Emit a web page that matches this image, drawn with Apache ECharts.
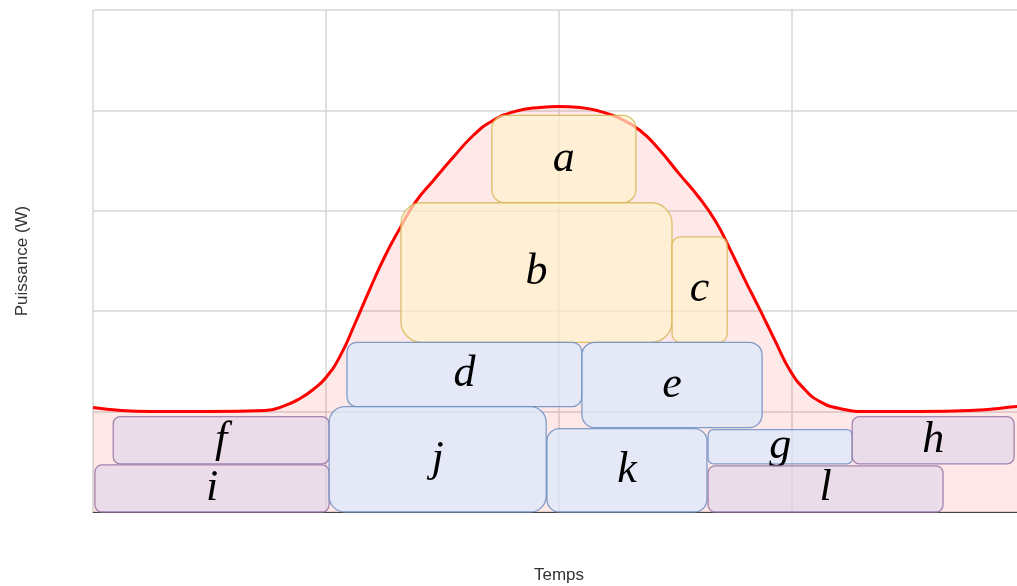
<!DOCTYPE html>
<html>
<head>
<meta charset="utf-8">
<script src="https://cdn.jsdelivr.net/npm/echarts@6/dist/echarts.min.js"></script>
<style>
  html, body { margin: 0; padding: 0; background: #ffffff; }
  #main { width: 1017px; height: 586px; }
</style>
</head>
<body>
<div id="main"></div>
<script>
// courbe de puissance (temps en heures, puissance en unites de grille)
var timeH = [0, 1.47, 3.01, 4.43, 4.94, 5.33, 5.67, 6.0, 6.36, 6.75, 7.13, 7.52, 7.91, 8.29, 8.76, 9.27, 9.79,
  10.3, 10.87, 11.51, 12.0, 12.54, 13.05, 13.57, 14.09, 14.58, 15.09, 15.61, 16.04, 16.4, 16.79, 17.18, 17.56,
  17.95, 18.33, 18.72, 19.24, 20.01, 21.3, 22.58, 23.79, 24]
var power = [1.04, 1.0, 1.0, 1.01, 1.06, 1.13, 1.22, 1.34, 1.55, 1.88, 2.22, 2.55, 2.83, 3.08, 3.3, 3.53, 3.75,
  3.9, 3.99, 4.03, 4.04, 4.03, 3.99, 3.92, 3.8, 3.61, 3.37, 3.13, 2.89, 2.62, 2.31, 2.01, 1.71,
  1.41, 1.22, 1.1, 1.03, 1.0, 1.0, 1.01, 1.05, 1.06]

// blocs (charges)
var boxNames = ['a', 'b', 'c', 'd', 'e', 'f', 'i', 'j', 'k', 'g', 'h', 'l']
var boxGroup = ['yellow', 'yellow', 'yellow', 'blue', 'blue', 'purple', 'purple', 'blue', 'blue', 'blue', 'purple', 'purple']
var boxStart = [10.27, 7.93, 14.91, 6.54, 12.59, 0.52, 0.05, 6.08, 11.69, 15.84, 19.55, 15.84]
var boxEnd = [13.98, 14.91, 16.33, 12.59, 17.23, 6.08, 6.08, 11.67, 15.81, 19.55, 23.72, 21.89]
var boxLow = [3.08, 1.69, 1.69, 1.05, 0.84, 0.48, 0, 0, 0, 0.48, 0.48, 0]
var boxHigh = [3.95, 3.08, 2.74, 1.69, 1.69, 0.95, 0.47, 1.05, 0.83, 0.82, 0.95, 0.46]

var groupStyle = {
  yellow: { fill: '#fff2cc', stroke: '#d6b656' },
  blue: { fill: '#dae8fc', stroke: '#6c8ebf' },
  purple: { fill: '#e1d5e7', stroke: '#9673a6' }
}

var curveData = timeH.map(function (t, i) { return [t, power[i]] })
var boxData = boxNames.map(function (n, i) { return [boxStart[i], boxLow[i], boxEnd[i], boxHigh[i]] })

var myChart = echarts.init(document.getElementById('main'))

function renderBox (params, api) {
  var p0 = api.coord([api.value(0), api.value(3)])
  var p1 = api.coord([api.value(2), api.value(1)])
  var w = p1[0] - p0[0]
  var h = p1[1] - p0[1]
  var st = groupStyle[boxGroup[params.dataIndex]]
  return {
    type: 'group',
    children: [
      {
        type: 'rect',
        shape: { x: p0[0], y: p0[1], width: w, height: h, r: Math.min(w, h) * 0.15 },
        style: { fill: st.fill, stroke: st.stroke, lineWidth: 1.3, fillOpacity: 0.7, strokeOpacity: 0.85 }
      },
      {
        type: 'text',
        style: {
          text: boxNames[params.dataIndex],
          x: p0[0] + w / 2,
          y: p0[1] + h / 2,
          align: 'center',
          verticalAlign: 'middle',
          font: 'italic 44px "Liberation Serif", "DejaVu Serif", serif',
          fill: '#000000'
        }
      }
    ]
  }
}

myChart.setOption({
  animation: false,
  // la grille depasse a droite de la fenetre
  grid: { left: 93, top: 10, width: 932, height: 502, outerBoundsMode: 'none' },
  xAxis: {
    type: 'value',
    min: 0,
    max: 24,
    interval: 6,
    name: 'Temps',
    nameLocation: 'middle',
    nameGap: 55,
    nameTextStyle: { fontFamily: 'Liberation Sans', fontSize: 17, color: '#333333' },
    axisLine: { show: true, lineStyle: { color: '#444444', width: 1 } },
    axisTick: { show: false },
    axisLabel: { show: false },
    splitLine: { show: true, lineStyle: { color: '#d6d6d6', width: 1.5 } }
  },
  yAxis: {
    type: 'value',
    min: 0,
    max: 5,
    interval: 1,
    name: 'Puissance (W)',
    nameLocation: 'middle',
    nameGap: 62,
    nameTextStyle: { fontFamily: 'Liberation Sans', fontSize: 17, color: '#333333' },
    axisLine: { show: false },
    axisTick: { show: false },
    axisLabel: { show: false },
    splitLine: { show: true, lineStyle: { color: '#d6d6d6', width: 1.5 } }
  },
  series: [
    {
      type: 'line',
      data: curveData,
      smooth: 0.5,
      symbol: 'none',
      lineStyle: { color: '#ff0000', width: 3 },
      areaStyle: { color: 'rgba(255, 0, 0, 0.13)' },
      z: 2
    },
    {
      type: 'custom',
      renderItem: renderBox,
      data: boxData,
      encode: { x: [0, 2], y: [1, 3] },
      z: 3
    }
  ]
})
</script>
</body>
</html>
